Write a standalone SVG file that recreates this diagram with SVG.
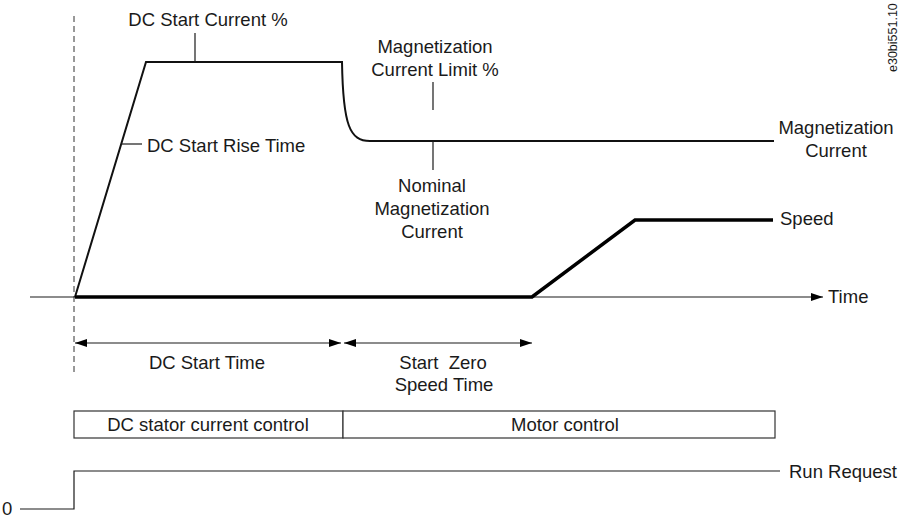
<svg xmlns="http://www.w3.org/2000/svg" width="902" height="518" viewBox="0 0 902 518">
<style>
text{font-family:"Liberation Sans",Arial,sans-serif;font-size:18.5px;fill:#1a1a1a}
.c{text-anchor:middle}
.thin{stroke:#1a1a1a;stroke-width:1.2;fill:none}
.mid{stroke:#111;stroke-width:2;fill:none}
.thick{stroke:#000;stroke-width:3.5;fill:none}
.box{stroke:#333;stroke-width:1.2;fill:#fff}
</style>
<defs>
<marker id="ah" viewBox="0 0 12 8" refX="12" refY="4" markerWidth="12" markerHeight="8" markerUnits="userSpaceOnUse" orient="auto-start-reverse">
<path d="M0,0 L12,4 L0,8 Z" fill="#000"/>
</marker>
</defs>
<g id="connectors">
<line x1="74" y1="16" x2="74" y2="374" stroke="#333" stroke-width="1" stroke-dasharray="6,4"/>
<line class="thin" x1="30" y1="297" x2="823" y2="297" marker-end="url(#ah)"/>
<path class="mid" d="M75,297 L146,62 L342,62 C343,126 350,141 370,141 L774,141"/>
<path class="thick" d="M75,297 L532,297 L635,220 L773,220"/>
<line class="thin" x1="195" y1="33" x2="195" y2="62"/>
<line class="thin" x1="121" y1="144" x2="142" y2="144"/>
<line class="thin" x1="433" y1="82" x2="433" y2="110"/>
<line class="thin" x1="433" y1="141" x2="433" y2="170"/>
<line class="thin" x1="75" y1="343" x2="341" y2="343" marker-start="url(#ah)" marker-end="url(#ah)"/>
<line class="thin" x1="344" y1="343" x2="532" y2="343" marker-start="url(#ah)" marker-end="url(#ah)"/>
<path class="thin" d="M20,509 L74,509 L74,471 L780,471"/>
</g>
<g id="dc-start-current"><text class="c" x="208" y="26">DC Start Current %</text></g>
<g id="dc-start-rise"><text x="147" y="152">DC Start Rise Time</text></g>
<g id="mag-limit"><text class="c" x="435" y="53">Magnetization</text><text class="c" x="435" y="76">Current Limit %</text></g>
<g id="nominal"><text class="c" x="432" y="192">Nominal</text><text class="c" x="432" y="215">Magnetization</text><text class="c" x="432" y="238">Current</text></g>
<g id="mag-current"><text class="c" x="836" y="134">Magnetization</text><text class="c" x="836" y="157">Current</text></g>
<g id="speed"><text x="780" y="225">Speed</text></g>
<g id="time"><text x="828" y="303">Time</text></g>
<g id="dc-start-time"><text class="c" x="207" y="369">DC Start Time</text></g>
<g id="start-zero"><text class="c" x="443" y="369" xml:space="preserve" style="white-space:pre">Start  Zero</text><text class="c" x="444" y="391">Speed Time</text></g>
<g id="dc-stator"><rect class="box" x="74" y="411" width="269" height="27"/><text class="c" x="208" y="431">DC stator current control</text></g>
<g id="motor-control"><rect class="box" x="343" y="411" width="432" height="27"/><text class="c" x="565" y="431">Motor control</text></g>
<g id="run-request"><text x="789" y="478">Run Request</text></g>
<g id="zero"><text x="2" y="515">0</text></g>
<g id="fig-id"><text x="897" y="72" transform="rotate(-90 897 72)" style="font-size:12.5px">e30bi551.10</text></g>
</svg>
